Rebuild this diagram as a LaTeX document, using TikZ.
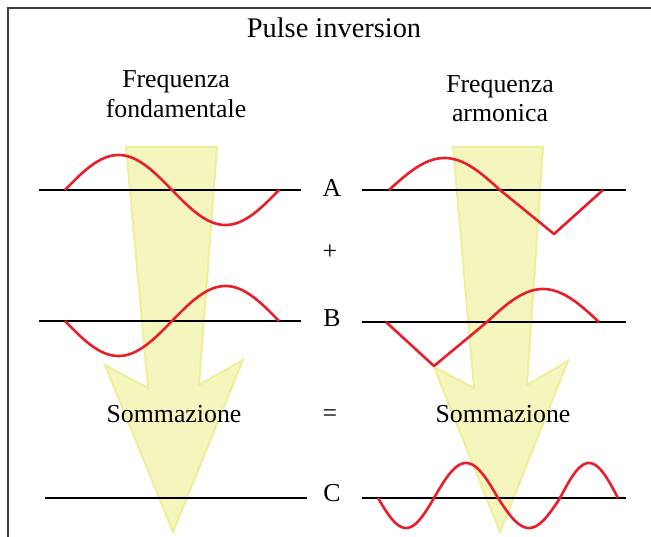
\documentclass[tikz,border=0pt]{standalone}
\usepackage{fontspec}
\setmainfont{Liberation Serif}
\begin{document}
\begin{tikzpicture}[x=1pt,y=-1pt,
  axisline/.style={line width=2.2pt,black},
  wave/.style={line width=2.6pt,color={rgb,255:red,232;green,30;blue,42},line join=round},
  bigarrow/.style={fill={rgb,255:red,245;green,245;blue,190},draw={rgb,255:red,238;green,238;blue,155},line width=2pt,line join=miter},
  lbl/.style={anchor=base,inner sep=0pt,font=\fontsize{25.8}{30}\selectfont},
  sym/.style={anchor=center,inner sep=0pt,font=\fontsize{25.8}{30}\selectfont}]
\useasboundingbox (0,0) rectangle (651,537);
% frame
\draw[line width=1.5pt,color={rgb,255:red,60;green,60;blue,60}] (8,537) -- (8,8) -- (651,8);
% arrows
\draw[bigarrow] (126,147) -- (217,147) -- (199,385) -- (243,360) -- (173,532) -- (105,365) -- (148,388) -- cycle;
\draw[bigarrow] (453,147) -- (543,147) -- (527,385) -- (568,361) -- (500,532) -- (434,367) -- (474,388) -- cycle;
% axis lines
\coordinate (a1) at (39,190); \coordinate (a2) at (301,190);
\coordinate (a3) at (362,190); \coordinate (a4) at (626,190);
\coordinate (b1) at (39,321); \coordinate (b2) at (301,321);
\coordinate (b3) at (362,322); \coordinate (b4) at (626,322);
\coordinate (c1) at (45,498); \coordinate (c2) at (307,498);
\coordinate (c3) at (362,498); \coordinate (c4) at (626,498);
\draw[axisline] (a1) -- (a2); \draw[axisline] (a3) -- (a4);
\draw[axisline] (b1) -- (b2); \draw[axisline] (b3) -- (b4);
\draw[axisline] (c1) -- (c2); \draw[axisline] (c3) -- (c4);
% waves
\draw[wave] plot[domain=0:360,samples=80,smooth] ({65+\x/360*214},{190-35*sin(\x)});
\draw[wave] plot[domain=0:180,samples=40,smooth] ({389+\x/180*111},{190-32*sin(\x)}) -- (554,234) -- (603,190);
\draw[wave] plot[domain=0:360,samples=80,smooth] ({65+\x/360*214},{321+35*sin(\x)});
\draw[wave] (386,322) -- (434,366) -- (487,322) -- plot[domain=0:180,samples=40,smooth] ({487+\x/180*112},{322-33*sin(\x)});
\draw[wave] plot[domain=0:180,samples=40,smooth] ({378+\x/180*56},{498+30*sin(\x)})
  -- plot[domain=0:180,samples=40,smooth] ({434+\x/180*64},{498-35*sin(\x)})
  -- plot[domain=0:180,samples=40,smooth] ({498+\x/180*62},{498+30*sin(\x)})
  -- plot[domain=0:180,samples=40,smooth] ({560+\x/180*58},{498-35*sin(\x)});
% texts
\node[lbl,font=\fontsize{28.4}{33}\selectfont] (title) at (334,38) {Pulse inversion};
\node[lbl] (f1) at (176,88) {Frequenza};
\node[lbl] (f2) at (176,118) {fondamentale};
\node[lbl] (h1) at (500,93) {Frequenza};
\node[lbl] (h2) at (500,122) {armonica};
\node[lbl] (A) at (332,197) {A};
\node[sym] (plus) at (330,252) {+};
\node[lbl] (B) at (332,327) {B};
\node[lbl] (s1) at (174,423) {Sommazione};
\node[sym] (eq) at (330,416) {=};
\node[lbl] (s2) at (503,423) {Sommazione};
\node[lbl] (C) at (332,501) {C};
\end{tikzpicture}
\end{document}
